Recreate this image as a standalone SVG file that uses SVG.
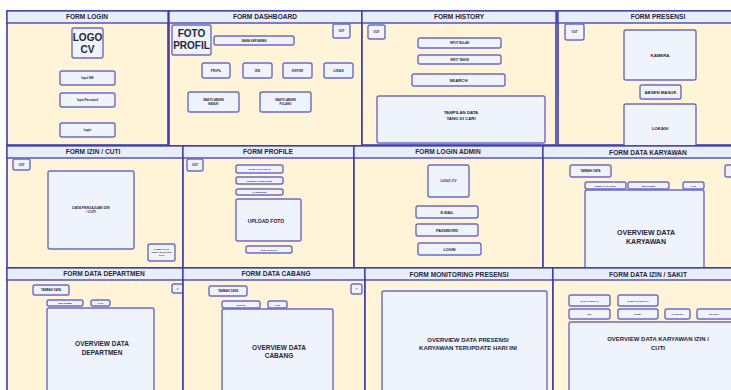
<svg xmlns="http://www.w3.org/2000/svg" width="731" height="390" viewBox="0 0 731 390">
<style>
.pb{fill:#fff4d8;stroke:#3c3cb2;stroke-width:1.6}
.ph{fill:#e9effa;stroke:#3c3cb2;stroke-width:1.3}
.bx{fill:#eef3fc;stroke:#6c69c6;stroke-width:1.4}
text{font-family:"Liberation Sans",Arial,sans-serif;font-weight:700;fill:#25253a;text-anchor:middle}
.t{font-size:6.6px}
.s{font-size:2.8px}
.m{font-size:4.3px}
.l{font-size:6.5px}
.xl{font-size:10px}
</style>
<rect width="731" height="390" fill="#ffffff"/>

<g id="form-login">
<rect class="pb" x="7" y="11" width="161" height="134"/>
<rect class="ph" x="7" y="11" width="161" height="12"/>
<text class="t" x="87" y="19.3">FORM LOGIN</text>
<rect class="bx" x="72" y="28" width="31" height="30" rx="2"/>
<text class="xl" x="87.5" y="41">LOGO</text>
<text class="xl" x="87.5" y="53">CV</text>
<rect class="bx" x="60" y="71" width="55" height="14" rx="2"/>
<text class="s" x="87.5" y="79">Input NIK</text>
<rect class="bx" x="60" y="93" width="55" height="14" rx="2"/>
<text class="s" x="87.5" y="101">Input Password</text>
<rect class="bx" x="60" y="123" width="55" height="14" rx="2"/>
<text class="s" x="87.5" y="131">Login</text>
</g>

<g id="form-dashboard">
<rect class="pb" x="169" y="11" width="193" height="135"/>
<rect class="ph" x="169" y="11" width="193" height="12"/>
<text class="t" x="265" y="19.3">FORM DASHBOARD</text>
<rect class="bx" x="172" y="25" width="39" height="30" rx="1.5"/>
<text class="xl" x="191.5" y="37">FOTO</text>
<text class="xl" x="191.5" y="48.5">PROFIL</text>
<rect class="bx" x="214" y="36" width="80" height="9" rx="2"/>
<text class="s" x="254" y="41.5">NAMA KARYAWAN</text>
<rect class="bx" x="333" y="24" width="17" height="14" rx="2"/>
<text class="s" x="341.5" y="32">OUT</text>
<rect class="bx" x="202" y="63" width="28" height="15" rx="2"/>
<text class="s" x="216" y="71.5">PROFIL</text>
<rect class="bx" x="243" y="63" width="29" height="15" rx="2"/>
<text class="s" x="257.5" y="71.5">IZIN</text>
<rect class="bx" x="283" y="63" width="29" height="15" rx="2"/>
<text class="s" x="297.5" y="71.5">HISTORI</text>
<rect class="bx" x="324" y="63" width="29" height="15" rx="2"/>
<text class="s" x="338.5" y="71.5">LOKASI</text>
<rect class="bx" x="188" y="92" width="51" height="20" rx="2"/>
<text class="s" x="213.5" y="101">WAKTU ABSEN</text>
<text class="s" x="213.5" y="104.5">MASUK</text>
<rect class="bx" x="260" y="92" width="51" height="20" rx="2"/>
<text class="s" x="285.5" y="101">WAKTU ABSEN</text>
<text class="s" x="285.5" y="104.5">PULANG</text>
</g>

<g id="form-history">
<rect class="pb" x="362" y="11" width="194" height="134"/>
<rect class="ph" x="362" y="11" width="194" height="12"/>
<text class="t" x="459" y="19.3">FORM HISTORY</text>
<rect class="bx" x="368" y="25" width="17" height="14" rx="2"/>
<text class="s" x="376.5" y="33">OUT</text>
<rect class="bx" x="418" y="38" width="83" height="10" rx="2"/>
<text class="s" x="459.5" y="44">INPUT BULAN</text>
<rect class="bx" x="418" y="55" width="83" height="9" rx="2"/>
<text class="s" x="459.5" y="60.5">INPUT TAHUN</text>
<rect class="bx" x="412" y="74" width="93" height="12" rx="2"/>
<text class="m" x="458.5" y="81.5">SEARCH</text>
<rect class="bx" x="377" y="96" width="168" height="47" rx="2"/>
<text class="m" x="461" y="114.3">TAMPILAN DATA</text>
<text class="m" x="461" y="119.6">YANG DI CARI</text>
</g>

<g id="form-presensi">
<rect class="pb" x="558" y="11" width="177" height="134"/>
<rect class="ph" x="558" y="11" width="177" height="12"/>
<text class="t" x="658" y="19.3">FORM PRESENSI</text>
<rect class="bx" x="565" y="24" width="19" height="16" rx="2"/>
<text class="s" x="574.5" y="33">OUT</text>
<rect class="bx" x="624" y="30" width="72" height="50" rx="2"/>
<text class="m" x="660" y="56.5">KAMERA</text>
<rect class="bx" x="640" y="85" width="41" height="14" rx="2"/>
<text class="m" x="660.5" y="93.5">ABSEN MASUK</text>
<rect class="bx" x="624" y="104" width="72" height="45" rx="2"/>
<text class="m" x="660" y="129.5">LOKASI</text>
</g>

<g id="form-izin-cuti">
<rect class="pb" x="7" y="146" width="176" height="122"/>
<rect class="ph" x="7" y="146" width="176" height="12"/>
<text class="t" x="93" y="154.3">FORM IZIN / CUTI</text>
<rect class="bx" x="13" y="159" width="17" height="11" rx="2"/>
<text class="s" x="21.5" y="165.5">OUT</text>
<rect class="bx" x="48" y="171" width="86" height="78" rx="2"/>
<text class="s" x="91" y="209" style="font-size:3.3px">DATA PENGAJUAN IZIN</text>
<text class="s" x="91" y="213" style="font-size:3.3px">/ CUTI</text>
<rect class="bx" x="148" y="244" width="27" height="17" rx="2"/>
<text class="s" x="161.5" y="249.5" style="font-size:2.3px">TAMBAHKAN</text>
<text class="s" x="161.5" y="252.5" style="font-size:2.3px">PENGAJUAN IZIN/</text>
<text class="s" x="161.5" y="255.5" style="font-size:2.3px">CUTI</text>
</g>

<g id="form-profile">
<rect class="pb" x="183" y="146" width="171" height="122"/>
<rect class="ph" x="183" y="146" width="171" height="12"/>
<text class="t" x="268" y="154.3">FORM PROFILE</text>
<rect class="bx" x="187" y="159" width="16" height="12" rx="2"/>
<text class="s" x="195" y="166">OUT</text>
<rect class="bx" x="236" y="165" width="47" height="8" rx="2"/>
<text class="s" x="259.5" y="170" style="font-size:2.4px">NAMA KARYAWAN</text>
<rect class="bx" x="236" y="177" width="47" height="7" rx="2"/>
<text class="s" x="259.5" y="181.5" style="font-size:2.4px">NOMOR HANDPHONE</text>
<rect class="bx" x="236" y="189" width="47" height="6" rx="2"/>
<text class="s" x="259.5" y="193" style="font-size:2.4px">PASSWORD</text>
<rect class="bx" x="236" y="199" width="65" height="42" rx="2"/>
<text x="266" y="223" style="font-size:5px">UPLOAD FOTO</text>
<rect class="bx" x="246" y="246" width="46" height="7" rx="2"/>
<text class="s" x="269" y="250.5" style="font-size:2.4px">UPDATE DATA</text>
</g>

<g id="form-login-admin">
<rect class="pb" x="354" y="146" width="189" height="122"/>
<rect class="ph" x="354" y="146" width="189" height="12"/>
<text class="t" x="448" y="154.3">FORM LOGIN ADMIN</text>
<rect class="bx" x="428" y="165" width="41" height="32" rx="2"/>
<text x="448.5" y="182" style="font-size:3.5px">LOGO CV</text>
<rect class="bx" x="416" y="206" width="62" height="12" rx="2"/>
<text x="447" y="213.5" style="font-size:3.8px">E-MAIL</text>
<rect class="bx" x="416" y="224" width="62" height="12" rx="2"/>
<text x="447" y="231.5" style="font-size:3.8px">PASSWORD</text>
<rect class="bx" x="418" y="243" width="63" height="12" rx="2"/>
<text x="449.5" y="250.5" style="font-size:3.8px">LOGIN</text>
</g>

<g id="form-data-karyawan">
<rect class="pb" x="543" y="146" width="192" height="122"/>
<rect class="ph" x="543" y="146" width="192" height="12"/>
<text class="t" x="648" y="154.5">FORM DATA KARYAWAN</text>
<rect class="bx" x="570" y="165" width="41" height="12" rx="2"/>
<text class="s" x="590.5" y="172">TAMBAH DATA</text>
<rect class="bx" x="725" y="165" width="12" height="12" rx="2"/>
<rect class="bx" x="585" y="182" width="41" height="7" rx="2"/>
<text class="s" x="605.5" y="186.5" style="font-size:2.2px">SEMUA KARYAWAN</text>
<rect class="bx" x="628" y="182" width="41" height="7" rx="2"/>
<text class="s" x="648.5" y="186.5" style="font-size:2.2px">DEPARTMEN</text>
<rect class="bx" x="683" y="182" width="21" height="7" rx="2"/>
<text class="s" x="693.5" y="186.5" style="font-size:2.2px">CARI</text>
<rect class="bx" x="585" y="190" width="119" height="82" rx="2"/>
<text class="l" x="646" y="234.5" style="font-size:7px">OVERVIEW DATA</text>
<text class="l" x="646" y="243.5" style="font-size:7px">KARYAWAN</text>
</g>

<g id="form-data-departmen">
<rect class="pb" x="7" y="268" width="176" height="127"/>
<rect class="ph" x="7" y="268" width="176" height="12"/>
<text class="t" x="104" y="276.3">FORM DATA DEPARTMEN</text>
<rect class="bx" x="33" y="285" width="36" height="10" rx="2"/>
<text class="s" x="51" y="291">TAMBAH DATA</text>
<rect class="bx" x="172" y="284" width="11" height="9" rx="2"/>
<text class="s" x="177.5" y="289.7">&gt;</text>
<rect class="bx" x="47" y="300" width="36" height="6" rx="2"/>
<text class="s" x="65" y="304" style="font-size:2.2px">DEPARTMEN</text>
<rect class="bx" x="91" y="300" width="19" height="6" rx="2"/>
<text class="s" x="100.5" y="304" style="font-size:2.2px">CARI</text>
<rect class="bx" x="47" y="308" width="107" height="87" rx="2"/>
<text class="l" x="102" y="346">OVERVIEW DATA</text>
<text class="l" x="102" y="354.5">DEPARTMEN</text>
</g>

<g id="form-data-cabang">
<rect class="pb" x="183" y="268" width="182" height="127"/>
<rect class="ph" x="183" y="268" width="182" height="12"/>
<text class="t" x="276" y="276.3">FORM DATA CABANG</text>
<rect class="bx" x="209" y="286" width="38" height="10" rx="2"/>
<text class="s" x="228" y="292">TAMBAH DATA</text>
<rect class="bx" x="351" y="284" width="11" height="10" rx="2"/>
<text class="s" x="356.5" y="290">&gt;</text>
<rect class="bx" x="222" y="301" width="38" height="7" rx="2"/>
<text class="s" x="241" y="305.5" style="font-size:2.2px">CABANG</text>
<rect class="bx" x="268" y="301" width="19" height="7" rx="2"/>
<text class="s" x="277.5" y="305.5" style="font-size:2.2px">CARI</text>
<rect class="bx" x="222" y="309" width="111" height="86" rx="2"/>
<text class="l" x="279" y="349.5">OVERVIEW DATA</text>
<text class="l" x="279" y="357.5">CABANG</text>
</g>

<g id="form-monitoring-presensi">
<rect class="pb" x="365" y="268" width="188" height="127"/>
<rect class="ph" x="365" y="268" width="188" height="12"/>
<text class="t" x="459" y="276.5">FORM MONITORING PRESENSI</text>
<rect class="bx" x="382" y="291" width="165" height="105" rx="2"/>
<text class="l" x="468" y="341.5" style="font-size:6px">OVERVIEW DATA PRESENSI</text>
<text class="l" x="468" y="349.5" style="font-size:6px">KARYAWAN TERUPDATE HARI INI</text>
</g>

<g id="form-data-izin-sakit">
<rect class="pb" x="553" y="268" width="182" height="127"/>
<rect class="ph" x="553" y="268" width="182" height="12"/>
<text class="t" x="648" y="276.5">FORM DATA IZIN / SAKIT</text>
<rect class="bx" x="569" y="295" width="41" height="11" rx="2"/>
<text class="s" x="589.5" y="301.5" style="font-size:2.4px">DARI TANGGAL</text>
<rect class="bx" x="618" y="295" width="40" height="11" rx="2"/>
<text class="s" x="638" y="301.5" style="font-size:2.4px">SAMPAI TANGGAL</text>
<rect class="bx" x="569" y="309" width="41" height="10" rx="2"/>
<text class="s" x="589.5" y="315" style="font-size:2.4px">NIK</text>
<rect class="bx" x="618" y="309" width="40" height="10" rx="2"/>
<text class="s" x="638" y="315" style="font-size:2.4px">NAMA</text>
<rect class="bx" x="665" y="309" width="25" height="10" rx="2"/>
<text class="s" x="677.5" y="315" style="font-size:2.2px">KATEGORI</text>
<rect class="bx" x="697" y="309" width="40" height="10" rx="2"/>
<text class="s" x="714" y="315" style="font-size:2.4px">SEARCH</text>
<rect class="bx" x="569" y="322" width="170" height="75" rx="2"/>
<text class="l" x="658" y="341" style="font-size:6px">OVERVIEW DATA KARYAWAN IZIN /</text>
<text class="l" x="658" y="349.5" style="font-size:6px">CUTI</text>
</g>

<g id="connectors"></g>
</svg>
